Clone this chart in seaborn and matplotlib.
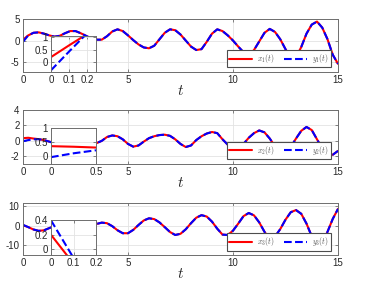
import matplotlib
matplotlib.use("Agg")
import matplotlib.pyplot as plt
import seaborn as sns
import numpy as np

# ---------------- data ----------------
t = [0.00, 0.25, 0.50, 0.75, 1.00, 1.25, 1.50, 1.75, 2.00, 2.25, 2.50, 2.75,
     3.00, 3.25, 3.50, 3.75, 4.00, 4.25, 4.50, 4.75, 5.00, 5.25, 5.50, 5.75,
     6.00, 6.25, 6.50, 6.75, 7.00, 7.25, 7.50, 7.75, 8.00, 8.25, 8.50, 8.75,
     9.00, 9.25, 9.50, 9.75, 10.00, 10.25, 10.50, 10.75, 11.00, 11.25, 11.50,
     11.75, 12.00, 12.25, 12.50, 12.75, 13.00, 13.25, 13.50, 13.75, 14.00,
     14.25, 14.50, 14.75, 15.00]

x1 = [0.2, 1.2, 1.8, 1.9, 1.6, 1.2, 0.9, 1.1, 1.7, 2.2, 2.2, 1.7,
      1.1, 0.5, 0.2, 0.2, 1.0, 2.1, 2.6, 2.2, 1.2, 0.1, -0.9, -1.6,
      -1.8, -1.2, 0.3, 1.8, 2.6, 2.4, 1.4, 0.0, -1.4, -2.2, -2.0, -0.3,
      1.6, 2.6, 2.2, 1.2, 0.0, -1.4, -2.7, -3.3, -2.2, -0.2, 1.8,
      2.7, 2.0, 0.3, -2.0, -3.8, -4.0, -1.5, 1.6, 3.7, 4.4,
      3.0, 0.3, -3.3, -5.4]
y1 = [-0.3, 1.2, 1.8, 1.9, 1.6, 1.2, 0.9, 1.1, 1.7, 2.2, 2.2, 1.7,
      1.1, 0.5, 0.2, 0.2, 1.0, 2.1, 2.6, 2.2, 1.2, 0.1, -0.9, -1.6,
      -1.8, -1.2, 0.3, 1.8, 2.6, 2.4, 1.4, 0.0, -1.4, -2.2, -2.0, -0.3,
      1.6, 2.6, 2.2, 1.2, 0.0, -1.4, -2.7, -3.3, -2.2, -0.2, 1.8,
      2.7, 2.0, 0.3, -2.0, -3.8, -4.0, -1.5, 1.6, 3.7, 4.4,
      3.0, 0.3, -3.3, -5.4]

x2 = [0.35, 0.4, 0.3, 0.22, 0.1, -0.1, -0.3, -0.4, -0.3, 0.0, 0.2, 0.1,
      -0.1, -0.3, -0.3, 0.0, 0.5, 0.7, 0.6, 0.2, -0.4, -0.75, -0.6, -0.1,
      0.35, 0.6, 0.75, 0.8, 0.65, 0.2, -0.4, -0.8, -0.6, 0.1, 0.6, 0.95,
      1.15, 1.0, 0.2, -0.5, -0.85, -0.85, -0.4, 0.4, 1.0, 1.35, 1.1,
      0.3, -0.7, -1.3, -1.4, -0.8, 0.3, 1.3, 1.8, 1.4, 0.2,
      -1.0, -1.75, -1.8, -1.3]
y2 = [-0.05, 0.1, 0.2, 0.22, 0.1, -0.1, -0.3, -0.4, -0.3, 0.0, 0.2, 0.1,
      -0.1, -0.3, -0.3, 0.0, 0.5, 0.7, 0.6, 0.2, -0.4, -0.75, -0.6, -0.1,
      0.35, 0.6, 0.75, 0.8, 0.65, 0.2, -0.4, -0.8, -0.6, 0.1, 0.6, 0.95,
      1.15, 1.0, 0.2, -0.5, -0.85, -0.85, -0.4, 0.4, 1.0, 1.35, 1.1,
      0.3, -0.7, -1.3, -1.4, -0.8, 0.3, 1.3, 1.8, 1.4, 0.2,
      -1.0, -1.75, -1.8, -1.3]

x3 = [0.2, -0.8, -2.0, -2.7, -2.4, -1.3, -0.2, 0.6, 1.0, 0.8, 0.2, -0.4,
      -0.5, 0.0, 0.8, 1.5, 1.2, -0.3, -2.4, -3.9, -3.9, -2.2, 0.3, 2.6,
      3.7, 3.3, 1.6, -0.8, -3.3, -4.8, -4.2, -1.9, 1.2, 4.0, 5.3, 4.6,
      2.0, -1.6, -4.6, -4.8, -2.6, 1.0, 4.8, 6.4, 5.2, 1.6, -3.2,
      -6.7, -5.6, -1.8, 3.0, 6.8, 7.9, 6.0, 1.0, -5.5, -8.6,
      -8.4, -3.2, 3.4, 8.5]
y3 = [0.4, -0.8, -2.0, -2.7, -2.4, -1.3, -0.2, 0.6, 1.0, 0.8, 0.2, -0.4,
      -0.5, 0.0, 0.8, 1.5, 1.2, -0.3, -2.4, -3.9, -3.9, -2.2, 0.3, 2.6,
      3.7, 3.3, 1.6, -0.8, -3.3, -4.8, -4.2, -1.9, 1.2, 4.0, 5.3, 4.6,
      2.0, -1.6, -4.6, -4.8, -2.6, 1.0, 4.8, 6.4, 5.2, 1.6, -3.2,
      -6.7, -5.6, -1.8, 3.0, 6.8, 7.9, 6.0, 1.0, -5.5, -8.6,
      -8.4, -3.2, 3.4, 8.5]

# zoomed transients (insets)
t_in1 = [0.0, 0.1, 0.19, 0.25]
x_in1 = [0.2, 0.67, 1.08, 1.3]
y_in1 = [-0.33, 0.42, 1.08, 1.3]

t_in2 = [0.0, 0.25, 0.5]
x_in2 = [0.35, 0.33, 0.3]
y_in2 = [-0.05, 0.09, 0.2]

t_in3 = [0.0, 0.1, 0.2]
x_in3 = [0.2, -0.2, -0.6]
y_in3 = [0.4, -0.12, -0.64]

main_yticks = [[-5, 0, 5], [-2, 0, 2, 4], [-10, 0, 10]]
main_ylims = [(-7.3, 5), (-3, 4), (-15, 11.5)]
xticks = [0, 5, 10, 15]

in_xlims = [(0, 0.25), (0, 0.5), (0, 0.2)]
in_xticks = [[0, 0.1, 0.2], [0, 0.5], [0, 0.1, 0.2]]
in_ylims = [(-0.4, 1.05), (-0.3, 1.0), (-0.08, 0.41)]
in_yticks = [[0, 0.5, 1], [0, 0.5, 1], [0, 0.2, 0.4]]
in_heights = [0.68, 0.66, 0.68]

legend_labels = [(r'$x_1(t)$', r'$y_1(t)$'), (r'$x_2(t)$', r'$y_2(t)$'),
                 (r'$x_3(t)$', r'$y_3(t)$')]

# ---------------- styling ----------------
sns.set_style("white")
plt.rcParams['font.family'] = ['Liberation Sans', 'DejaVu Sans']
plt.rcParams['mathtext.fontset'] = 'cm'

RED = '#ff0000'
BLUE = '#0000ff'
SPINE = '#6e6e6e'
TXT = '#262626'
GRID = '#e3e3e3'
LW = 1.5

fig = plt.figure(figsize=(3.82, 2.95), dpi=100)
W, H = 382.0, 295.0
boxes = [(19, 72), (110, 164), (203, 255)]
left_px, right_px = 23, 338


def style_axes(ax, xt, yt, xl, yl):
    ax.set_xlim(*xl)
    ax.set_ylim(*yl)
    ax.set_xticks(xt)
    ax.set_yticks(yt)
    ax.set_xticklabels([('%g' % v) for v in xt])
    ax.set_yticklabels([('%g' % v) for v in yt])
    ax.grid(True, color=GRID, linewidth=0.6)
    ax.set_axisbelow(True)
    for s in ax.spines.values():
        s.set_color(SPINE)
        s.set_linewidth(0.7)
        s.set_visible(True)
    ax.tick_params(direction='in', length=2.5, width=0.6, colors=SPINE,
                   labelcolor=TXT, labelsize=7, pad=2.5,
                   top=True, right=True, bottom=True, left=True)
    ax.set_xlabel('')
    ax.set_ylabel('')


mains = [(x1, y1), (x2, y2), (x3, y3)]
insets = [(t_in1, x_in1, y_in1), (t_in2, x_in2, y_in2), (t_in3, x_in3, y_in3)]

for i in range(3):
    top_px, bot_px = boxes[i]
    ax = fig.add_axes([left_px / W, 1 - bot_px / H,
                       (right_px - left_px) / W, (bot_px - top_px) / H])
    xs, ys = mains[i]
    sns.lineplot(x=t, y=xs, ax=ax, color=RED, linewidth=LW, sort=False,
                 label=legend_labels[i][0])
    sns.lineplot(x=t, y=ys, ax=ax, color=BLUE, linewidth=LW, sort=False,
                 linestyle='--', label=legend_labels[i][1])
    style_axes(ax, xticks, main_yticks[i], (0, 15), main_ylims[i])
    ax.set_xlabel(r'$t$', fontsize=11, labelpad=-1, color=TXT)
    leg = ax.legend(loc='lower right', bbox_to_anchor=(0.977, 0.085),
                    ncol=2, fontsize=5.5, handlelength=3.0, handletextpad=0.6,
                    columnspacing=1.3, borderpad=0.3, borderaxespad=0,
                    frameon=True, fancybox=False, framealpha=1,
                    edgecolor='#4d4d4d')
    leg.get_frame().set_linewidth(0.8)
    for txt in leg.get_texts():
        txt.set_color('#555555')

    # inset
    ti, xi, yi = insets[i]
    inax = ax.inset_axes([(51 - left_px) / (right_px - left_px), 0.0,
                          45.0 / (right_px - left_px), in_heights[i]])
    inax.set_facecolor('white')
    sns.lineplot(x=ti, y=xi, ax=inax, color=RED, linewidth=LW, sort=False,
                 legend=False)
    sns.lineplot(x=ti, y=yi, ax=inax, color=BLUE, linewidth=LW, sort=False,
                 linestyle='--', legend=False)
    style_axes(inax, in_xticks[i], in_yticks[i], in_xlims[i], in_ylims[i])

fig.savefig('out.png', dpi=100)
